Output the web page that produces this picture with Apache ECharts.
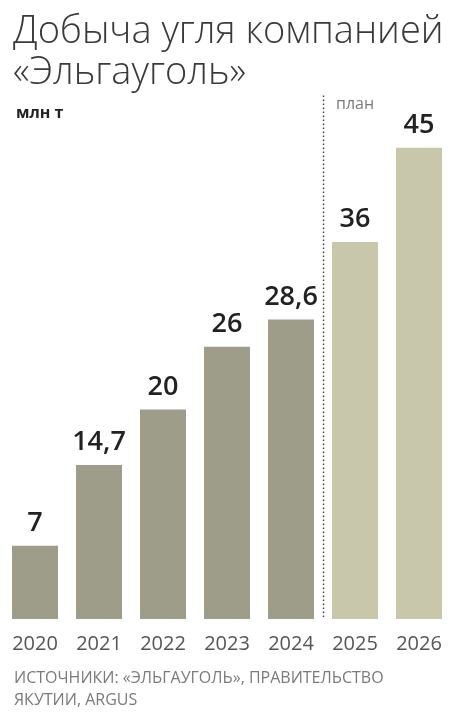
<!DOCTYPE html>
<html>
<head>
<meta charset="utf-8">
<script src="https://cdn.jsdelivr.net/npm/echarts@6/dist/echarts.min.js"></script>
<style>
  html, body { margin: 0; padding: 0; background: #fff; }
  #chart { width: 457px; height: 727px; }
</style>
</head>
<body>
<div id="chart"></div>
<script>
// данные
const years = ['2020', '2021', '2022', '2023', '2024', '2025', '2026'];
const output = [7, 14.7, 20, 26, 28.6, 36, 45];
const planFrom = 5; // с 2025 — план

const chart = echarts.init(document.getElementById('chart'), null, { renderer: 'canvas' });

const option = {
  backgroundColor: '#fff',
  animation: false,
  textStyle: { fontFamily: '"Open Sans", "Noto Sans", sans-serif' },
  title: [
    {
      text: 'Добыча угля компанией\n«Эльгауголь»',
      left: 8, top: 7,
      textStyle: { fontSize: 38, fontWeight: 300, color: '#3a3a3a', lineHeight: 41, fontFamily: '"Open Sans", sans-serif' }
    },
    {
      text: 'млн т',
      left: 11, top: 100,
      textStyle: { fontSize: 16, fontWeight: 'bold', color: '#222' }
    },
    {
      text: 'план',
      left: 331, top: 91,
      textStyle: { fontSize: 16, fontWeight: 'normal', color: '#7a7a7a' }
    },
    {
      text: 'ИСТОЧНИКИ: «ЭЛЬГАУГОЛЬ», ПРАВИТЕЛЬСТВО\nЯКУТИИ, ARGUS',
      left: 9, top: 662,
      textStyle: { fontSize: 16, fontWeight: 'normal', color: '#7a7a7a', lineHeight: 22 }
    }
  ],
  grid: { left: 3, right: 6, top: 95.5, bottom: 108, containLabel: false },
  xAxis: {
    type: 'category',
    data: years,
    axisLine: { show: false },
    axisTick: { show: false },
    axisLabel: { fontSize: 20, color: '#555', margin: 15 }
  },
  yAxis: {
    type: 'value',
    min: 0, max: 50,
    show: false,
    splitLine: { show: false }
  },
  series: [{
    type: 'bar',
    barWidth: 46,
    data: output.map((v, i) => ({
      value: v,
      itemStyle: { color: i >= planFrom ? '#c8c6ab' : '#9e9d89' }
    })),
    label: {
      show: true,
      position: 'top',
      distance: 9,
      fontSize: 27,
      fontWeight: 600,
      color: '#222',
      formatter: (p) => String(p.value).replace('.', ',')
    }
  }]
};

chart.setOption(option);

// пунктир между фактом и планом
const xa = chart.convertToPixel({ xAxisIndex: 0 }, planFrom - 1);
const xb = chart.convertToPixel({ xAxisIndex: 0 }, planFrom);
const yTop = chart.convertToPixel({ yAxisIndex: 0 }, 50);
const yBot = chart.convertToPixel({ yAxisIndex: 0 }, 0);
const xm = Math.round((xa + xb) / 2) + 0.5;
chart.setOption({
  graphic: [{
    type: 'line',
    shape: { x1: xm, y1: yTop, x2: xm, y2: yBot },
    style: { stroke: '#444', lineWidth: 1.5, lineDash: [1.5, 2.5] },
    silent: true
  }]
});
</script>
</body>
</html>
